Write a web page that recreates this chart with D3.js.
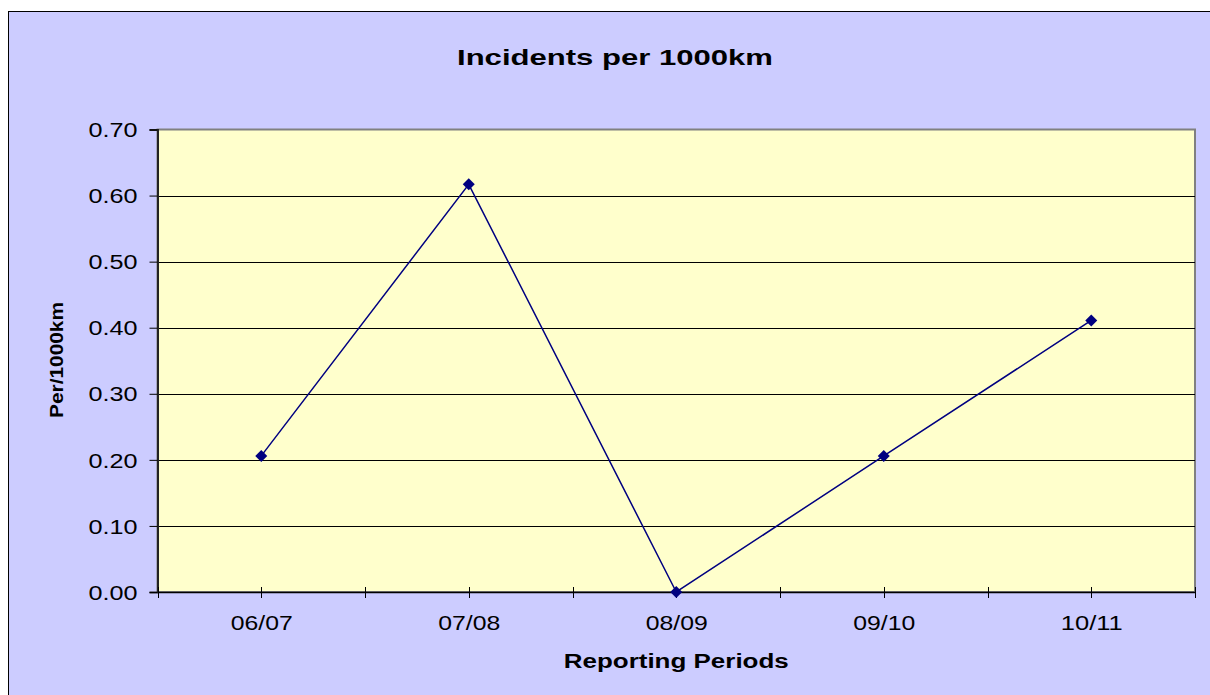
<!DOCTYPE html>
<html>
<head>
<meta charset="utf-8">
<script src="https://cdn.jsdelivr.net/npm/d3@7"></script>
<style>
  body { margin: 0; background: #fff; }
  svg { display: block; font-family: "Liberation Sans", Arial, sans-serif; }
</style>
</head>
<body>
<div id="chart"></div>
<script>
// data
var periods = ["06/07", "07/08", "08/09", "09/10", "10/11"];
var incidents = [0.206, 0.617, 0.000, 0.206, 0.411];
var yTicks = [0, 0.1, 0.2, 0.3, 0.4, 0.5, 0.6, 0.7];

var W = 1210, H = 695;
var plot = {left: 157.5, right: 1195, top: 129.5, bottom: 592};

var svg = d3.select("#chart").append("svg")
  .attr("width", W)
  .attr("height", H);

// outer chart area
svg.append("rect")
  .attr("x", 8.5).attr("y", 11.5)
  .attr("width", W + 10).attr("height", H + 10)
  .attr("fill", "#ccccff")
  .attr("stroke", "#000")
  .attr("stroke-width", 1);

var x = d3.scalePoint()
  .domain(periods)
  .range([plot.left, plot.right])
  .padding(0.5);

var y = d3.scaleLinear()
  .domain([0, 0.7])
  .range([plot.bottom, plot.top]);

// plot background
svg.append("rect")
  .attr("x", plot.left).attr("y", plot.top)
  .attr("width", plot.right - plot.left)
  .attr("height", plot.bottom - plot.top)
  .attr("fill", "#ffffcc")
  .attr("stroke", "#808080")
  .attr("stroke-width", 2);

// gridlines
svg.selectAll(".grid")
  .data(yTicks.slice(1, -1))
  .enter().append("line")
  .attr("class", "grid")
  .attr("x1", plot.left).attr("x2", plot.right)
  .attr("y1", function(d) { return Math.round(y(d)) + 0.5; })
  .attr("y2", function(d) { return Math.round(y(d)) + 0.5; })
  .attr("stroke", "#000")
  .attr("stroke-width", 1);

// y axis
var yAxis = d3.axisLeft(y)
  .tickValues(yTicks)
  .tickFormat(d3.format(".2f"))
  .tickSize(8)
  .tickPadding(12);

var gy = svg.append("g")
  .attr("transform", "translate(" + plot.left + ",0)")
  .call(yAxis);
gy.select(".domain").attr("stroke", "#222").attr("stroke-width", 2);
gy.selectAll(".tick line").attr("stroke", "#000");
gy.selectAll("text")
  .attr("fill", "#000")
  .style("font-size", "20px")
  .attr("textLength", 49)
  .attr("lengthAdjust", "spacingAndGlyphs")
  .attr("dy", "0.36em");

// x axis (category labels at centres)
var xAxis = d3.axisBottom(x).tickSize(0).tickPadding(23);
var gx = svg.append("g")
  .attr("transform", "translate(0," + plot.bottom + ")")
  .call(xAxis);
gx.select(".domain").attr("stroke", "#000").attr("stroke-width", 1.5);
gx.selectAll("text")
  .attr("fill", "#000")
  .style("font-size", "21px")
  .attr("textLength", 62)
  .attr("lengthAdjust", "spacingAndGlyphs");

// tick marks at category centres and boundaries
var step = x.step();
var tickPos = [];
periods.forEach(function(p, i) {
  tickPos.push(x(p) - step / 2);
  tickPos.push(x(p));
});
tickPos.push(x(periods[periods.length - 1]) + step / 2);
svg.selectAll(".xtick")
  .data(tickPos)
  .enter().append("line")
  .attr("class", "xtick")
  .attr("x1", function(d) { return Math.round(d) + 0.5; })
  .attr("x2", function(d) { return Math.round(d) + 0.5; })
  .attr("y1", plot.bottom - 5)
  .attr("y2", plot.bottom + 6)
  .attr("stroke", "#000")
  .attr("stroke-width", 1);

// series line
var line = d3.line()
  .x(function(d, i) { return x(periods[i]); })
  .y(function(d) { return y(d); });

svg.append("path")
  .datum(incidents)
  .attr("d", line)
  .attr("fill", "none")
  .attr("stroke", "#000080")
  .attr("stroke-width", 1.5);

svg.selectAll(".marker")
  .data(incidents)
  .enter().append("path")
  .attr("class", "marker")
  .attr("d", d3.symbol().type(d3.symbolSquare).size(72))
  .attr("transform", function(d, i) {
    return "translate(" + x(periods[i]) + "," + y(d) + ") rotate(45)";
  })
  .attr("fill", "#000080");

// titles
svg.append("text")
  .attr("x", 615).attr("y", 65)
  .attr("text-anchor", "middle")
  .style("font-weight", "bold")
  .style("font-size", "22px")
  .attr("textLength", 316)
  .attr("lengthAdjust", "spacingAndGlyphs")
  .text("Incidents per 1000km");

svg.append("text")
  .attr("x", (plot.left + plot.right) / 2).attr("y", 668)
  .attr("text-anchor", "middle")
  .style("font-weight", "bold")
  .style("font-size", "20px")
  .attr("textLength", 225)
  .attr("lengthAdjust", "spacingAndGlyphs")
  .text("Reporting Periods");

svg.append("text")
  .attr("transform", "translate(63,360) rotate(-90)")
  .attr("text-anchor", "middle")
  .style("font-weight", "bold")
  .style("font-size", "19px")
  .attr("textLength", 116)
  .attr("lengthAdjust", "spacingAndGlyphs")
  .text("Per/1000km");
</script>
</body>
</html>
